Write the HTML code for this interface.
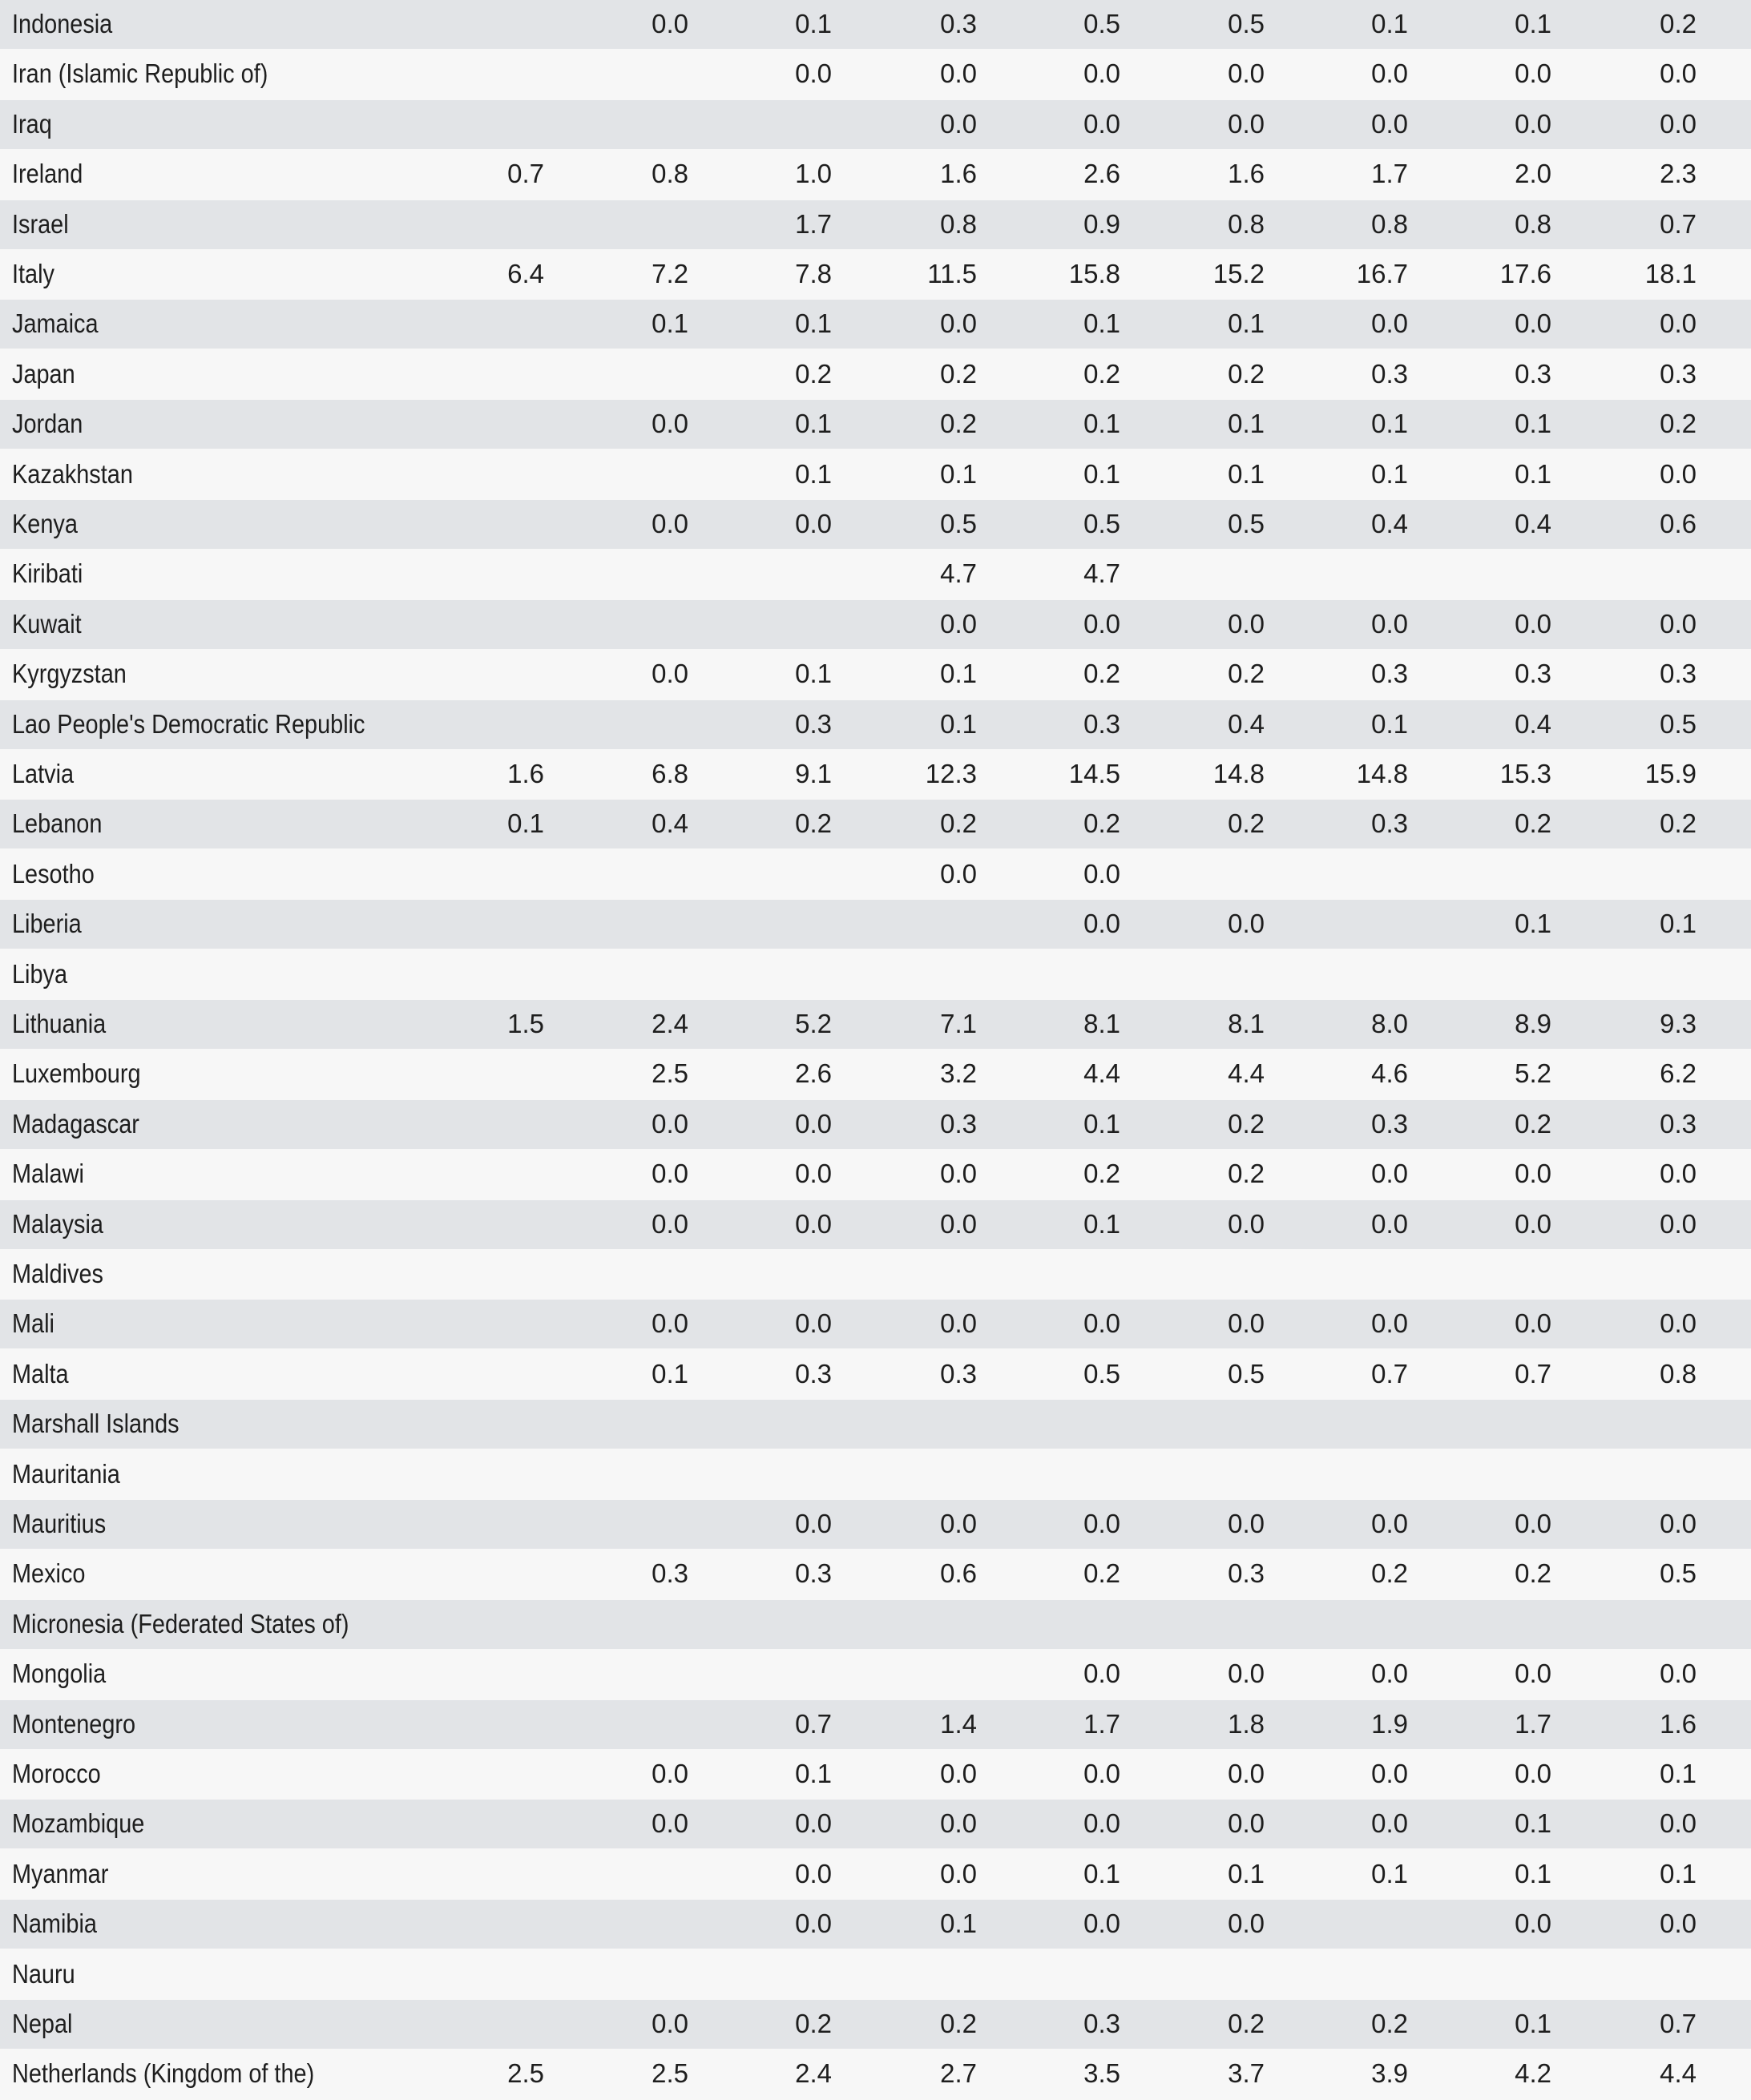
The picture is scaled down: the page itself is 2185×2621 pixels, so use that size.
<!DOCTYPE html>
<html><head><meta charset="utf-8"><style>
body{margin:0;width:2185px;height:2621px;background:#f7f7f7;font-family:"Liberation Sans",sans-serif;color:#1e1e1e;overflow:hidden;position:relative}
.r{position:absolute;left:0;width:2185px;height:61px}
.g{background:#e2e4e7}
.n{position:absolute;left:15px;top:-1px;line-height:61px;font-size:33px;transform:scaleX(.875);transform-origin:left center;white-space:nowrap}
.v{position:absolute;top:-1px;line-height:61px;font-size:33px;text-align:right;width:120px}
</style></head><body>
<div id="t"></div>
<script>
const rows=[
["Indonesia",["","0.0","0.1","0.3","0.5","0.5","0.1","0.1","0.2"]],
["Iran (Islamic Republic of)",["","","0.0","0.0","0.0","0.0","0.0","0.0","0.0"]],
["Iraq",["","","","0.0","0.0","0.0","0.0","0.0","0.0"]],
["Ireland",["0.7","0.8","1.0","1.6","2.6","1.6","1.7","2.0","2.3"]],
["Israel",["","","1.7","0.8","0.9","0.8","0.8","0.8","0.7"]],
["Italy",["6.4","7.2","7.8","11.5","15.8","15.2","16.7","17.6","18.1"]],
["Jamaica",["","0.1","0.1","0.0","0.1","0.1","0.0","0.0","0.0"]],
["Japan",["","","0.2","0.2","0.2","0.2","0.3","0.3","0.3"]],
["Jordan",["","0.0","0.1","0.2","0.1","0.1","0.1","0.1","0.2"]],
["Kazakhstan",["","","0.1","0.1","0.1","0.1","0.1","0.1","0.0"]],
["Kenya",["","0.0","0.0","0.5","0.5","0.5","0.4","0.4","0.6"]],
["Kiribati",["","","","4.7","4.7","","","",""]],
["Kuwait",["","","","0.0","0.0","0.0","0.0","0.0","0.0"]],
["Kyrgyzstan",["","0.0","0.1","0.1","0.2","0.2","0.3","0.3","0.3"]],
["Lao People's Democratic Republic",["","","0.3","0.1","0.3","0.4","0.1","0.4","0.5"]],
["Latvia",["1.6","6.8","9.1","12.3","14.5","14.8","14.8","15.3","15.9"]],
["Lebanon",["0.1","0.4","0.2","0.2","0.2","0.2","0.3","0.2","0.2"]],
["Lesotho",["","","","0.0","0.0","","","",""]],
["Liberia",["","","","","0.0","0.0","","0.1","0.1"]],
["Libya",["","","","","","","","",""]],
["Lithuania",["1.5","2.4","5.2","7.1","8.1","8.1","8.0","8.9","9.3"]],
["Luxembourg",["","2.5","2.6","3.2","4.4","4.4","4.6","5.2","6.2"]],
["Madagascar",["","0.0","0.0","0.3","0.1","0.2","0.3","0.2","0.3"]],
["Malawi",["","0.0","0.0","0.0","0.2","0.2","0.0","0.0","0.0"]],
["Malaysia",["","0.0","0.0","0.0","0.1","0.0","0.0","0.0","0.0"]],
["Maldives",["","","","","","","","",""]],
["Mali",["","0.0","0.0","0.0","0.0","0.0","0.0","0.0","0.0"]],
["Malta",["","0.1","0.3","0.3","0.5","0.5","0.7","0.7","0.8"]],
["Marshall Islands",["","","","","","","","",""]],
["Mauritania",["","","","","","","","",""]],
["Mauritius",["","","0.0","0.0","0.0","0.0","0.0","0.0","0.0"]],
["Mexico",["","0.3","0.3","0.6","0.2","0.3","0.2","0.2","0.5"]],
["Micronesia (Federated States of)",["","","","","","","","",""]],
["Mongolia",["","","","","0.0","0.0","0.0","0.0","0.0"]],
["Montenegro",["","","0.7","1.4","1.7","1.8","1.9","1.7","1.6"]],
["Morocco",["","0.0","0.1","0.0","0.0","0.0","0.0","0.0","0.1"]],
["Mozambique",["","0.0","0.0","0.0","0.0","0.0","0.0","0.1","0.0"]],
["Myanmar",["","","0.0","0.0","0.1","0.1","0.1","0.1","0.1"]],
["Namibia",["","","0.0","0.1","0.0","0.0","","0.0","0.0"]],
["Nauru",["","","","","","","","",""]],
["Nepal",["","0.0","0.2","0.2","0.3","0.2","0.2","0.1","0.7"]],
["Netherlands (Kingdom of the)",["2.5","2.5","2.4","2.7","3.5","3.7","3.9","4.2","4.4"]]
];
const xs=[679,859,1038,1219,1398,1578,1757,1936,2117];
let h="";
rows.forEach((r,i)=>{
 const top=(i*62.4).toFixed(1);
 h+=`<div class="r${i%2==0?' g':''}" style="top:${top}px"><span class="n">${r[0]}</span>`;
 r[1].forEach((v,j)=>{if(v)h+=`<span class="v" style="left:${xs[j]-120}px">${v}</span>`;});
 h+='</div>';
});
document.getElementById('t').innerHTML=h;
</script>
</body></html>
